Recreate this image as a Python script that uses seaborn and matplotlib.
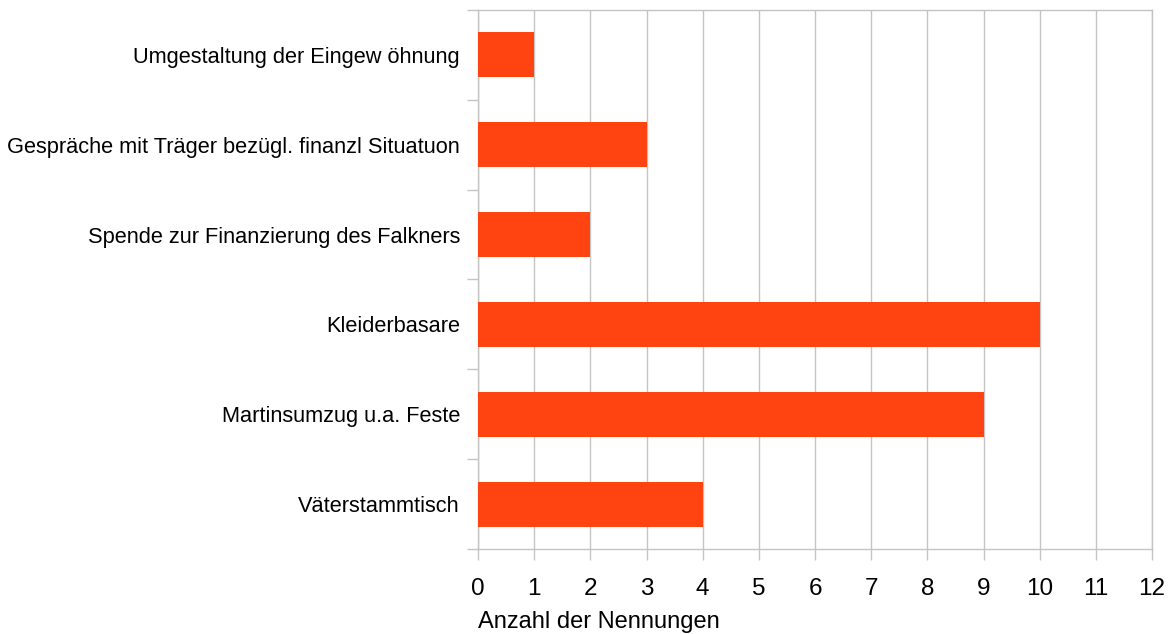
import numpy as np
import pandas as pd
import matplotlib
matplotlib.use("Agg")
import matplotlib.pyplot as plt
import seaborn as sns

categories = [
    "Umgestaltung der Eingew öhnung",
    "Gespräche mit Träger bezügl. finanzl Situatuon",
    "Spende zur Finanzierung des Falkners",
    "Kleiderbasare",
    "Martinsumzug u.a. Feste",
    "Väterstammtisch",
]
counts = [1, 3, 2, 10, 9, 4]
x_ticks = list(range(0, 13))

sns.set_style("white")
plt.rcParams["font.family"] = ["Liberation Sans", "DejaVu Sans"]
plt.rcParams["text.color"] = "black"
plt.rcParams["xtick.color"] = "black"
plt.rcParams["ytick.color"] = "black"
plt.rcParams["axes.labelcolor"] = "black"

df = pd.DataFrame({"massnahme": categories, "anzahl": counts})

fig = plt.figure(figsize=(11.72, 6.34), dpi=100)
ax = fig.add_axes([478 / 1172, 1 - 549 / 634, (1152 - 478) / 1172, (549 - 10) / 634])

sns.barplot(data=df, y="massnahme", x="anzahl", orient="h", color="#ff4411",
            saturation=1, width=0.5, linewidth=0, ax=ax, zorder=3)

grid_c = "#c4c4c4"
ax.set_xlim(0, 12)
ax.set_ylim(len(categories) - 0.5, -0.5)
ax.set_xticks(x_ticks)
ax.set_xticklabels([str(t) for t in x_ticks], fontsize=17.5)
ax.xaxis.grid(True, color=grid_c, linewidth=1.0, zorder=0)
ax.yaxis.grid(False)

ax.set_yticks(np.arange(len(categories)))
ax.set_yticklabels(categories, fontsize=15.7)
ax.set_yticks(np.arange(len(categories) + 1) - 0.5, minor=True)
ax.tick_params(axis="y", which="major", left=True, length=0, pad=13)
ax.tick_params(axis="y", which="minor", left=True, length=8, color=grid_c,
               width=1.0)
ax.tick_params(axis="x", which="major", bottom=True, length=8, color=grid_c,
               width=1.0, pad=13)

for side in ["left", "right", "top", "bottom"]:
    ax.spines[side].set_visible(True)
    ax.spines[side].set_color(grid_c)
    ax.spines[side].set_linewidth(1.0)

ax.set_ylabel("")
ax.set_xlabel("Anzahl der Nennungen", fontsize=17, loc="left", labelpad=8)

plt.savefig("out.png", dpi=100)
plt.close()
